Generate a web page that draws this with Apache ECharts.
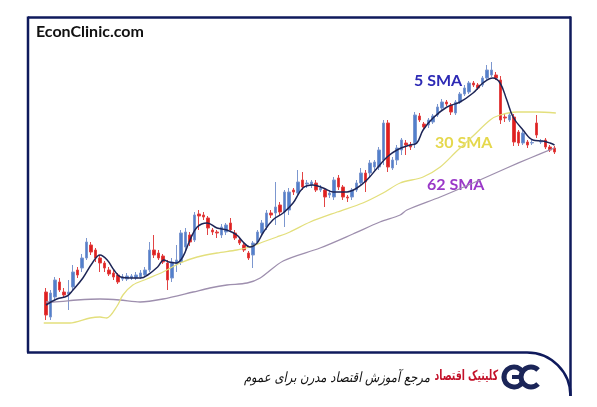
<!DOCTYPE html>
<html>
<head>
<meta charset="utf-8">
<script src="https://cdn.jsdelivr.net/npm/echarts@6.0.0/dist/echarts.min.js"></script>
<style>
html,body{margin:0;padding:0;background:#fff;}
#c{width:597px;height:407px;}
</style>
</head>
<body>
<div id="c"></div>
<script>
// ---- data (price units) ----
const opens  = [68,43,63,78,68,66,73,90,92,102,115,110,102,97,90,87,85,81,81,82,82,83,85,90,110,107,104,97,82,96,98,113,125,120,146,145,142,130,128,125,128,137,127,120,115,107,105,118,127,133,147,147,155,148,150,170,167,180,176,175,177,170,170,165,163,182,173,163,163,170,177,187,187,193,193,200,237,192,200,210,217,215,217,244,236,235,238,245,252,258,255,247,258,266,268,277,275,275,282,285,285,280,243,240,243,228,217,218,217,237,218,220,213,212];
const closes = [45,67,80,70,65,68,88,85,102,118,108,102,97,92,86,83,78,83,84,84,85,87,90,110,105,102,98,80,98,100,127,128,118,145,144,143,132,128,127,133,135,130,122,117,110,102,117,128,137,147,145,153,148,168,168,168,178,173,177,178,170,172,163,167,180,173,163,162,170,177,187,178,197,198,210,237,193,200,212,220,215,213,245,240,233,240,244,253,258,256,248,258,266,272,277,275,272,282,290,290,282,240,242,245,218,217,227,215,217.5,225,219,213,210,208];
const lows   = [40,40,60,68,62,50,70,82,88,100,105,98,88,88,84,80,76,79,79,80,80,81,83,88,102,100,96,70,78,88,95,110,114,118,130,140,125,125,122,122,125,128,120,115,108,100,92,116,125,130,142,135,145,133,145,165,164,170,172,172,168,168,153,162,160,170,160,158,160,168,175,168,183,190,190,195,188,190,195,205,205,210,212,238,230,232,236,243,250,254,245,245,256,264,266,273,270,273,280,283,280,236,238,238,214,214,215,212,215,222,216,211,208,206];
const highs  = [72,70,83,82,72,80,95,93,106,122,118,112,105,99,93,90,87,86,87,86,88,90,93,118,125,110,106,100,102,115,130,132,128,148,150,148,144,132,130,136,137,142,130,122,117,109,119,130,140,150,150,178,158,170,172,172,190,188,180,180,180,175,172,170,183,185,175,165,172,180,192,190,200,200,213,240,240,203,215,222,220,218,248,247,238,242,246,256,261,260,257,260,268,275,279,279,277,284,295,298,288,284,246,248,246,230,230,220,220,245,221,222,215,214];
const days = opens.map((_, i) => 'D' + (i + 1));

// moving averages: [candle index, value]
const sma5 = [[0,55],[2.4,61],[4.7,64],[6,70],[8.2,82],[10.3,97],[12,105],[13.6,100],[15.1,90],[16.6,83],[18.8,82],[21,82],[22.6,85],[24.8,93],[26.2,100],[27.3,98],[29,97],[30.4,103],[32,120],[33.6,133],[35.8,137],[38,132],[40.2,130],[42.4,125],[43.8,118],[45.3,113],[46.9,117],[48.2,127],[50.4,140],[52.7,147],[54.9,157],[57.1,172],[59.3,175],[61.6,172],[63.8,168],[66.9,168],[69.1,172],[71.3,180],[73.6,192],[75.8,203],[78,210],[80.9,215],[82.4,217],[83.8,230],[86,242],[89.1,253],[92,258],[94.9,267],[97.1,277],[99.3,282],[100.9,277],[102.4,260],[103.8,243],[106,230],[108.2,220],[110.4,219],[112,217],[113,215]];
const sma30 = [[-0.5,37],[5.3,37],[9.8,42],[12,43],[13.5,42],[15.8,54],[17.1,65],[19.3,75],[22.4,81],[26,88],[29.8,97],[33.6,103],[38,107],[42.4,110],[45.3,113],[48.2,118],[51.3,123],[54.2,128],[58.7,138],[64.7,148],[70.4,157],[74.9,167],[78.7,177],[83.8,183],[87.6,193],[91.3,209],[94.9,224],[98.7,240],[100.9,245],[104.7,248],[109.1,248],[113.3,247]];
const sma62 = [[0,58],[1.6,58],[6.9,60],[12,61],[16.4,60],[20.9,58],[26,61],[32.7,68],[36.4,72],[40.2,75],[44.7,77],[47.6,82],[52.7,99],[60.9,112],[68.2,126],[74.2,138],[78.7,145],[80.2,150],[87.6,163],[94.9,177],[102.4,192],[107.6,202],[113,212]];

const labels = ['5 SMA', '30 SMA', '62 SMA'];
const brandEn = 'EconClinic.com';
const brandFa = 'کلینیک اقتصاد';
const sloganFa = 'مرجع آموزش اقتصاد مدرن برای عموم';

const candles = opens.map((o, i) => [o, closes[i], lows[i], highs[i]]);

const chart = echarts.init(document.getElementById('c'), null, {renderer: 'canvas'});
const grid = {left: 43.75, right: 40.25, top: 40, height: 290};
const navy = '#0f1a5c';
chart.setOption({
  animation: false,
  backgroundColor: '#ffffff',
  grid: grid,
  xAxis: [
    {type: 'category', data: days, boundaryGap: true, show: false},
    {type: 'value', min: -0.5, max: days.length - 0.5, show: false}
  ],
  yAxis: {type: 'value', min: 30, max: 320, show: false},
  series: [
    {
      type: 'candlestick', data: candles, barWidth: 3.4,
      itemStyle: {color: '#5280cc', color0: '#e01f1f', borderColor: '#7c97cf', borderColor0: '#e24444', borderWidth: 1}
    },
    {type: 'line', xAxisIndex: 1, data: sma62, smooth: 0.3, symbol: 'none', lineStyle: {color: '#9e8fae', width: 1.3}},
    {type: 'line', xAxisIndex: 1, data: sma30, smooth: 0.3, symbol: 'none', lineStyle: {color: '#e3df7c', width: 1.3}},
    {type: 'line', xAxisIndex: 1, data: sma5, smooth: 0.4, symbol: 'none', lineStyle: {color: '#1d2556', width: 1.5}}
  ],
  graphic: [
    {type: 'line', shape: {x1: 28, y1: 17.5, x2: 571, y2: 17.5}, style: {stroke: navy, lineWidth: 2.5}},
    {type: 'line', shape: {x1: 28, y1: 16.5, x2: 28, y2: 352.5}, style: {stroke: navy, lineWidth: 2.5}},
    {type: 'line', shape: {x1: 570.5, y1: 16.5, x2: 570.5, y2: 396}, style: {stroke: navy, lineWidth: 2.5}},
    {type: 'line', shape: {x1: 27, y1: 352.5, x2: 527, y2: 352.5}, style: {stroke: navy, lineWidth: 2.5}},
    {type: 'arc', shape: {cx: 527, cy: 396, r: 43.5, startAngle: -Math.PI / 2, endAngle: 0, clockwise: true}, style: {stroke: navy, lineWidth: 2.5, fill: null}},
    {type: 'text', left: 36, top: 24, style: {text: brandEn, font: 'bold 16px Lato', fill: '#111'}},
    {type: 'text', x: 414, y: 81, style: {text: labels[0], font: 'bold 16px Lato', fill: '#2d2ab5', verticalAlign: 'middle'}},
    {type: 'text', x: 435, y: 143, style: {text: labels[1], font: 'bold 16px Lato', fill: '#e5d84c', verticalAlign: 'middle'}},
    {type: 'text', x: 427, y: 185, style: {text: labels[2], font: 'bold 16px Lato', fill: '#9a38c8', verticalAlign: 'middle'}},
    {type: 'arc', shape: {cx: 514, cy: 377, r: 10, startAngle: Math.PI / 5, endAngle: Math.PI * 2 - Math.PI / 5, clockwise: true}, style: {stroke: '#1b2558', lineWidth: 5, fill: null}},
    {type: 'line', shape: {x1: 512, y1: 377, x2: 522, y2: 377}, style: {stroke: '#1b2558', lineWidth: 4}},
    {type: 'arc', shape: {cx: 531, cy: 377, r: 10, startAngle: Math.PI / 4, endAngle: Math.PI * 2 - Math.PI / 4, clockwise: true}, style: {stroke: '#1b2558', lineWidth: 5, fill: null}},
    {type: 'text', x: 498, y: 376, scaleX: 0.66, style: {text: brandFa, font: 'bold 14px "DejaVu Sans"', fill: '#c3122a', align: 'right', verticalAlign: 'middle'}},
    {type: 'text', x: 430, y: 378, scaleX: 0.83, style: {text: sloganFa, font: 'italic 14px "DejaVu Sans"', fill: '#111', align: 'right', verticalAlign: 'middle'}}
  ]
});
</script>
</body>
</html>
